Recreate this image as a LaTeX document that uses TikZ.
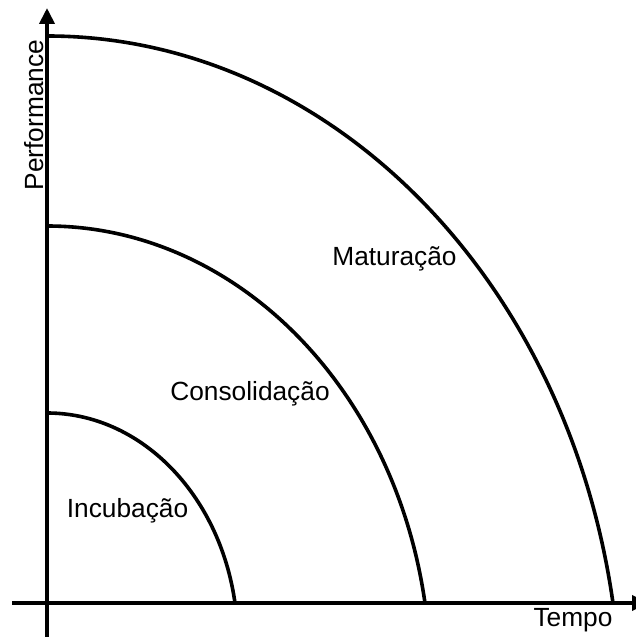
\documentclass[tikz,border=0pt]{standalone}
\usepackage{fontspec}
\setmainfont{Liberation Sans}
\usetikzlibrary{arrows.meta}
\begin{document}
\begin{tikzpicture}[x=1pt,y=1pt,
  axis/.style={line width=3.8pt,-{Triangle[length=16pt,width=15pt]}},
  phase/.style={line width=3.6pt},
  lbl/.style={inner sep=0pt,font=\fontsize{26.3}{31}\selectfont}]
\useasboundingbox (0,0) rectangle (636,637);
% axes
\coordinate (O) at (47,34);
\coordinate (ybot) at (47,-2);
\coordinate (ytop) at (47,629);
\coordinate (xl) at (12,34);
\coordinate (xr) at (648,34);
\draw[axis] (ybot) -- (ytop);
\draw[axis] (xl) -- (xr);
% phase curves: elliptic arcs, same shape scaled
\coordinate (inc) at (47,224);
\coordinate (con) at (47,411);
\coordinate (mat) at (47,601);
\draw[phase] (inc) arc[start angle=90,end angle=9.594,x radius={1.0142*188pt},y radius={1.2*190pt}];
\draw[phase] (con) arc[start angle=90,end angle=9.594,x radius={1.0142*378pt},y radius={1.2*377pt}];
\draw[phase] (mat) arc[start angle=90,end angle=9.594,x radius={1.0142*566pt},y radius={1.2*567pt}];
% labels
\node[lbl,anchor=base] (tinc) at (127.5,119) {Incubação};
\node[lbl,anchor=base] (tcon) at (250,236) {Consolidação};
\node[lbl,anchor=base] (tmat) at (394.5,371) {Maturação};
\node[lbl,anchor=base] (ttempo) at (573,10) {Tempo};
\node[lbl,anchor=base,rotate=90] (tperf) at (43,522) {Performance};
\end{tikzpicture}
\end{document}
